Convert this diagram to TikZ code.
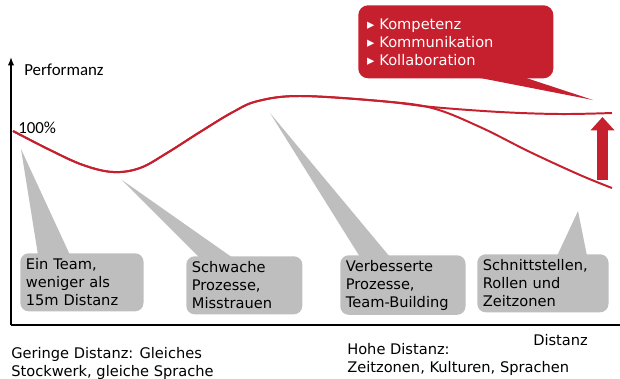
\documentclass[tikz,border=0pt]{standalone}
\usepackage{fontspec}
\setmainfont{DejaVu Sans}
\newfontfamily\calib{Carlito}
\usetikzlibrary{arrows.meta,positioning,calc}
\definecolor{curvecol}{HTML}{C61F2D}
\definecolor{boxcol}{HTML}{BEBEBE}

\tikzset{
  infobox/.style={fill=boxcol, rounded corners=6pt, anchor=north west, align=left,
    text width=#1, minimum height=1.45cm, inner xsep=0.14cm},
  perfline/.style={curvecol, line width=1.4pt},
  label/.style={anchor=west, inner sep=0pt, align=left}
}

\begin{document}
\begin{tikzpicture}[x=0.025cm, y=-0.025cm, font=\fontsize{10.4}{12.8}\selectfont]
\useasboundingbox (0,0) rectangle (620,378);

% axes
\coordinate (orig) at (11,325);
\coordinate (ytop) at (11,57);
\coordinate (xend) at (620,325);
\draw[line width=0.9pt, -{Latex[length=6pt,width=4.5pt]}] (orig) -- (ytop);
\draw[line width=0.9pt] (orig) -- (xend);
\node[label, font=\calib\fontsize{12}{14}\selectfont] (perf) at (24,70) {Performanz};
\node[label, font=\calib\fontsize{12}{14}\selectfont] (full) at (18,128) {100\%};
\node[label] (dist) at (533,340) {Distanz};
\node[label] (near) at (11,363) {Geringe Distanz: Gleiches\\Stockwerk, gleiche Sprache};
\node[label] (far) at (347,359) {Hohe Distanz:\\Zeitzonen, Kulturen, Sprachen};

% performance curves
\draw[perfline] plot[smooth, tension=0.6] coordinates {(13,131) (50,150) (83,165) (113,172) (140,168)
  (167,153) (200,132) (233,112) (258,101) (300,96) (380,101) (432,107) (500,112) (560,114) (612,113)};
\draw[perfline] plot[smooth, tension=0.6] coordinates {(13,131) (50,150) (83,165) (113,172) (140,168)
  (167,153) (200,132) (233,112) (258,101) (300,96) (380,101) (432,108) (480,127) (530,152) (580,175) (612,188)};

% lift arrow
\coordinate (liftlow) at (602.5,180);
\coordinate (lifthigh) at (602.5,117);
\draw[curvecol, line width=7.8pt, -{Triangle[length=9.5pt,width=16.5pt]}] (liftlow) -- (lifthigh);

% red callout
\node[fill=curvecol, text=white, rounded corners=7pt, anchor=north west, align=left,
  minimum width=4.875cm, minimum height=1.825cm, inner xsep=0.22cm, text width=4.43cm] (skills) at (358,5)
  {▸ Kompetenz\\▸ Kommunikation\\▸ Kollaboration};
\coordinate (skilltip) at (593,100);
\fill[curvecol] ($(skills.south west)+(115,-2)$) -- (skilltip) -- ($(skills.south west)+(164,-2)$) -- cycle;

% grey callouts
\foreach \nm/\x/\y/\tw/\txt in {team/20/253/2.8cm/{Ein Team,\\weniger als\\15m Distanz},
    weak/186/256/2.62cm/{Schwache\\Prozesse,\\Misstrauen},
    better/340/255/2.85cm/{Verbesserte\\Prozesse,\\Team-Building},
    iface/477/254/3.0cm/{Schnittstellen,\\Rollen und\\Zeitzonen}}{
  \node[infobox=\tw] (\nm) at (\x,\y) {\txt};
}
\foreach \nm/\tx/\ty/\a/\b in {team/21/149/18/50, weak/122/180/14/47, better/270/113/20/50, iface/578/211/80/110}{
  \fill[boxcol] (\tx,\ty) -- ($(\nm.north west)+(\a,2)$) -- ($(\nm.north west)+(\b,2)$) -- cycle;
}
\end{tikzpicture}
\end{document}
